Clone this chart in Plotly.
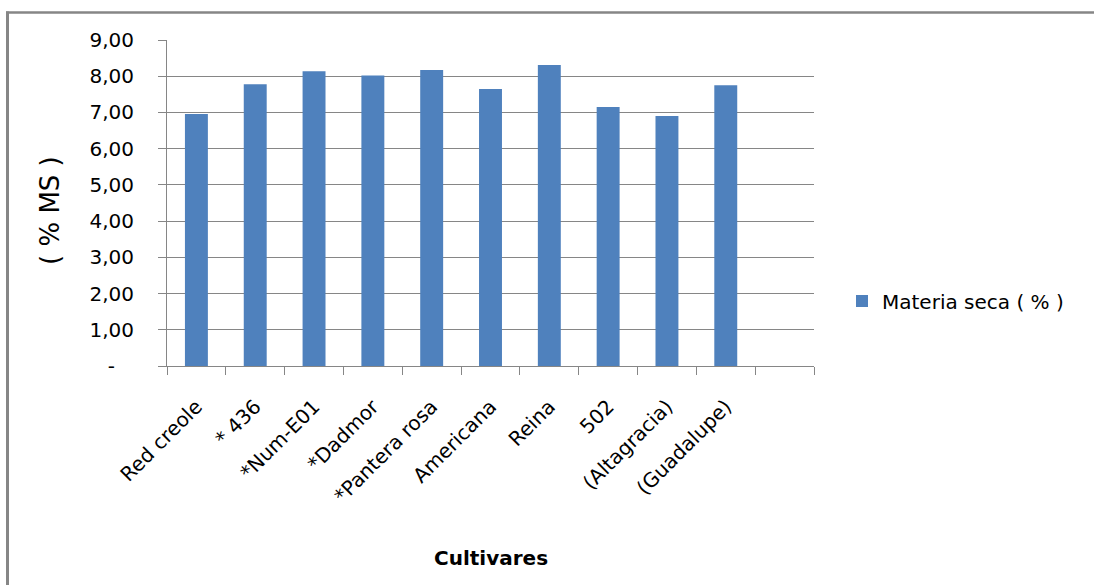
import plotly.graph_objects as go

cultivares = ["Red creole", "* 436", "*Num-E01", "*Dadmor", "*Pantera rosa",
              "Americana", "Reina", "502", "(Altagracia)", "(Guadalupe)"]
materia_seca = [6.96, 7.78, 8.14, 8.02, 8.17, 7.65, 8.31, 7.15, 6.90, 7.75]
empty_slot = [" "]
slots = cultivares + empty_slot
y_tick_vals = [0, 1, 2, 3, 4, 5, 6, 7, 8, 9]
y_tick_text = ["-\u00a0\u00a0\u00a0", "1,00", "2,00", "3,00", "4,00", "5,00",
               "6,00", "7,00", "8,00", "9,00"]
series_name = "Materia seca ( % )"
x_title = "Cultivares"
y_title = "( % MS )"

W, H = 1094, 585
L, R, T, B = 167, 280, 40, 219
PW, PH = W - L - R, H - T - B
GRAY = "#868686"
FONT = "DejaVu Sans"


def px_x(px):
    return (px - L) / PW


def px_y(py):
    return (H - B - py) / PH


fig = go.Figure()
fig.add_trace(go.Bar(
    x=cultivares, y=materia_seca, name=series_name,
    marker=dict(color="#4F81BD", line=dict(width=0)),
    width=0.39, showlegend=True,
))

fig.update_layout(
    width=W, height=H, autosize=False,
    margin=dict(l=L, r=R, t=T, b=B),
    paper_bgcolor="white", plot_bgcolor="white",
    font=dict(family=FONT, size=20, color="#000000"),
    showlegend=True,
    legend=dict(x=px_x(842), y=px_y(301), xanchor="left", yanchor="middle",
                font=dict(size=20, family=FONT), bgcolor="rgba(0,0,0,0)",
                itemwidth=30),
    xaxis=dict(
        type="category", categoryorder="array", categoryarray=slots,
        range=[-0.5, len(slots) - 0.5],
        showline=True, linecolor=GRAY, linewidth=1,
        ticks="outside", tickson="boundaries", ticklen=8, tickcolor=GRAY,
        tickwidth=1, tickangle=-45, showgrid=False,
        ticklabelstandoff=20,
        tickfont=dict(size=20, family=FONT),
    ),
    yaxis=dict(
        range=[0, 9], tickvals=y_tick_vals, ticktext=y_tick_text,
        showline=True, linecolor=GRAY, linewidth=1,
        showgrid=True, gridcolor=GRAY, gridwidth=1, zeroline=False,
        ticks="outside", ticklen=8, tickcolor=GRAY, tickwidth=1,
        ticklabelstandoff=20,
        tickfont=dict(size=20, family=FONT),
    ),
    annotations=[
        dict(text="<b>" + x_title + "</b>", xref="paper", yref="paper",
             x=0.5, y=px_y(558),
             showarrow=False, font=dict(size=20, family=FONT),
             xanchor="center", yanchor="middle"),
        dict(text=y_title, xref="paper", yref="paper", x=px_x(50),
             y=px_y(211), showarrow=False, textangle=-90,
             font=dict(size=26, family=FONT),
             xanchor="center", yanchor="middle"),
    ],
    shapes=[
        dict(type="line", xref="paper", yref="paper",
             x0=px_x(7.5), x1=px_x(7.5), y0=px_y(11.5), y1=px_y(600),
             line=dict(color=GRAY, width=3)),
        dict(type="line", xref="paper", yref="paper",
             x0=px_x(6), x1=px_x(1110), y0=px_y(12.5), y1=px_y(12.5),
             line=dict(color=GRAY, width=2.5)),
    ],
)

fig.write_html("out.html", config={"displayModeBar": False})
